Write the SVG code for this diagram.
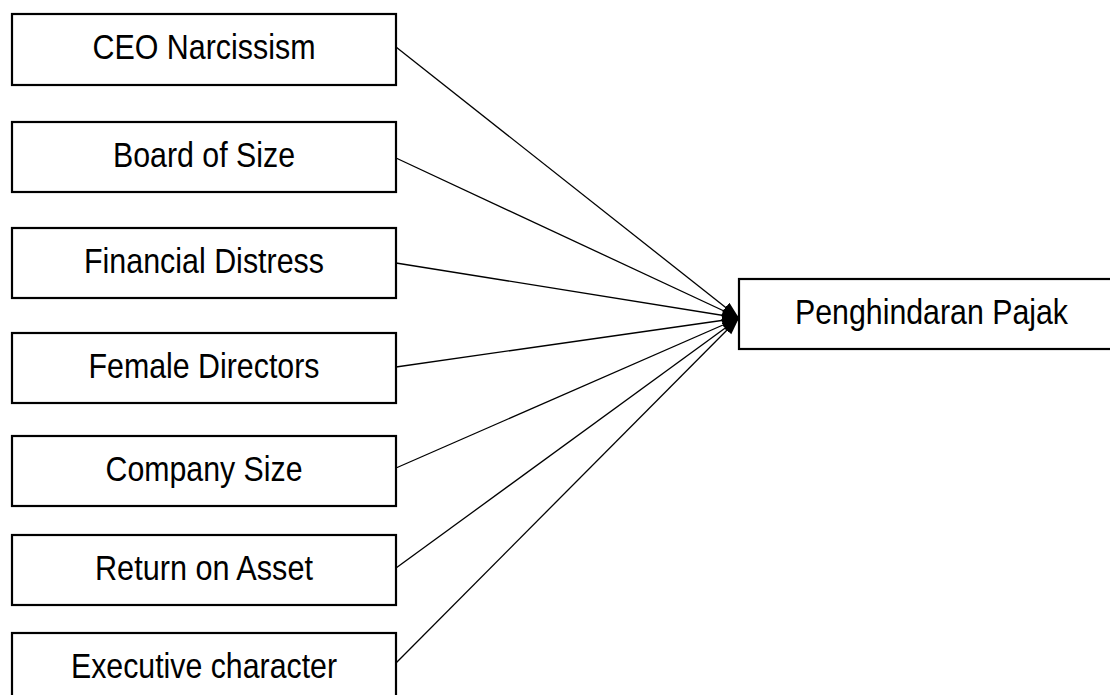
<svg xmlns="http://www.w3.org/2000/svg" width="1110" height="695" viewBox="0 0 1110 695">
<style>
.box{fill:#fff;stroke:#000;stroke-width:2.2}
.lbl{font-family:"Liberation Sans",Arial,sans-serif;font-size:35px;fill:#000;text-anchor:middle}
.conn{stroke:#000;stroke-width:1.3;fill:none}
</style>
<defs>
<marker id="arr" markerUnits="userSpaceOnUse" markerWidth="18" markerHeight="14" refX="17" refY="6" orient="auto">
<path d="M0,0 L17,6 L0,12 Z" fill="#000"/>
</marker>
</defs>
<rect width="1110" height="695" fill="#fff"/>
<g id="connectors">
<line class="conn" x1="396" y1="47" x2="739" y2="318" marker-end="url(#arr)"/>
<line class="conn" x1="396" y1="158" x2="739" y2="318" marker-end="url(#arr)"/>
<line class="conn" x1="396" y1="263" x2="739" y2="318" marker-end="url(#arr)"/>
<line class="conn" x1="396" y1="367" x2="739" y2="318" marker-end="url(#arr)"/>
<line class="conn" x1="396" y1="468" x2="739" y2="318" marker-end="url(#arr)"/>
<line class="conn" x1="396" y1="568" x2="739" y2="318" marker-end="url(#arr)"/>
<line class="conn" x1="396" y1="663" x2="739" y2="318" marker-end="url(#arr)"/>
</g>
<g id="n1"><rect class="box" x="12" y="14" width="384" height="71"/><text class="lbl" x="204" y="59" textLength="223" lengthAdjust="spacingAndGlyphs">CEO Narcissism</text></g>
<g id="n2"><rect class="box" x="12" y="122" width="384" height="70"/><text class="lbl" x="204" y="167" textLength="182" lengthAdjust="spacingAndGlyphs">Board of Size</text></g>
<g id="n3"><rect class="box" x="12" y="228" width="384" height="70"/><text class="lbl" x="204" y="273" textLength="240" lengthAdjust="spacingAndGlyphs">Financial Distress</text></g>
<g id="n4"><rect class="box" x="12" y="333" width="384" height="70"/><text class="lbl" x="204" y="378" textLength="231" lengthAdjust="spacingAndGlyphs">Female Directors</text></g>
<g id="n5"><rect class="box" x="12" y="436" width="384" height="70"/><text class="lbl" x="204" y="481" textLength="197" lengthAdjust="spacingAndGlyphs">Company Size</text></g>
<g id="n6"><rect class="box" x="12" y="535" width="384" height="70"/><text class="lbl" x="204" y="580" textLength="218" lengthAdjust="spacingAndGlyphs">Return on Asset</text></g>
<g id="n7"><rect class="box" x="12" y="633" width="384" height="70"/><text class="lbl" x="204" y="678" textLength="266" lengthAdjust="spacingAndGlyphs">Executive character</text></g>
<g id="target"><rect class="box" x="739" y="279" width="385" height="70"/><text class="lbl" x="931.5" y="324" textLength="273" lengthAdjust="spacingAndGlyphs">Penghindaran Pajak</text></g>
</svg>
